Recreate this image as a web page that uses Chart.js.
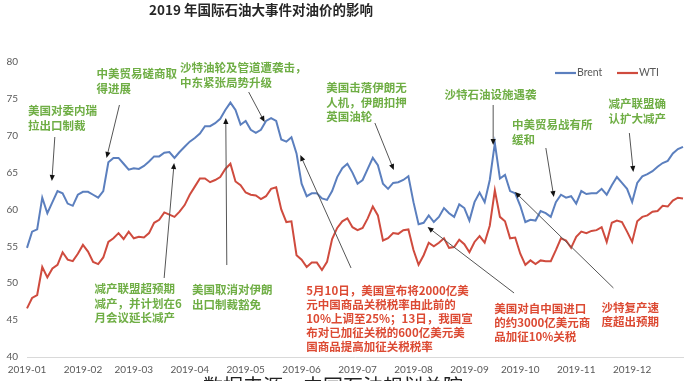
<!DOCTYPE html>
<html><head><meta charset="utf-8">
<script src="https://cdn.jsdelivr.net/npm/chart.js@4.4.1/dist/chart.umd.min.js"></script>
<style>
html,body{margin:0;padding:0;background:#fff;width:690px;height:381px;overflow:hidden;}
#wrap{position:relative;width:690px;height:381px;overflow:hidden;}
#title{position:absolute;left:0;top:1px;width:522px;text-align:center;font:bold 13.5px "Noto Sans CJK SC";line-height:16px;color:#262626;}
#src{position:absolute;left:203px;top:373px;font:20px "Noto Sans CJK SC";line-height:26px;color:#222;white-space:nowrap;}
canvas{position:absolute;left:0;top:0;}
</style></head>
<body><div id="wrap"><canvas id="c" width="690" height="381"></canvas>
<div id="title">2019 年国际石油大事件对油价的影响</div>
<div id="src">数据来源：中国石油规划总院</div></div>
<script>
const monthLabels = ['2019-01','2019-02','2019-03','2019-04','2019-05','2019-06','2019-07','2019-08','2019-09','2019-10','2019-11','2019-12'];
const monthCounts = [11,10,11,11,11,11,11,11,10,11,11,11];
const yTicks = [40,45,50,55,60,65,70,75,80];

const brent = [54.8,57,57.3,61.6,59.5,61,62.5,62.2,60.8,60.5,62,
62.4,62.4,62,61.6,62.5,66.4,67,67,66.2,65.4,
65.6,65.5,65.9,66.5,67.2,67.2,67.7,67.8,67,67.8,68.5,
69.2,69.7,70.3,71.3,71.3,71.7,72.3,73.5,74.5,73.5,71.5,
72,70.8,70.4,70.8,72,72.4,72,69.5,69.2,69.8,67.6,
63.5,61.8,62.2,62.2,61.5,61.3,62.5,64.4,65.6,66.2,65,
63.5,64,65.5,67,66,63.5,62.8,63.6,63.7,64,64.5,
61,58,58.2,59.2,58.3,59,60.2,59.5,59,60.7,60.2,
58.5,61,62.3,61,64,69,64.2,64.7,62.5,62.2,
60.5,58.3,58.6,58.5,59.8,59.5,59,61,62,61.6,61.8,
60.8,62.5,62.1,62.2,62.2,62.8,62,63.3,64.4,63.6,62.8,
61,63.6,64.5,64.8,65.2,65.8,66.3,66.6,67.6,68.2,68.5];

const wti = [46.6,48,48.4,52.2,50.8,52,52.5,54.2,53.2,53,54,
55.2,54.3,52.9,52.6,53.5,55.6,56.1,56.8,56,57,
56.1,56.3,56.2,56.8,58.2,58.6,59.6,59.3,59,59.7,60.6,
62,63.1,64.2,64.2,63.7,64,64.4,65.5,66.2,63.8,63.3,
62.3,62,61.9,61.4,61.8,62.8,63,60,58.3,58.4,53.8,
53.2,52.2,52.8,52.8,51.8,52.9,56,57.5,58.4,58.8,57.6,
57.2,57.5,58.8,60.4,59.2,55.8,56.1,56.8,56.7,57.2,57.3,
54.5,52.5,53.8,55.5,55,55.5,56.1,54.8,54.9,55.9,55.3,
54.2,55.6,56.4,55.5,57.8,62.6,59,58.4,56.1,56.2,
54,52.5,53.1,52.6,53.1,53,53,54.5,56.1,55.8,54.8,
56.3,57,56.8,57.1,57.2,57.6,55.6,58.2,58.5,58.3,57,
55.6,58.4,59,59.2,59.7,59.8,60.5,60.4,61.2,61.6,61.5];

const seriesNames = ['Brent','WTI'];

// labels: month name at each month's first point
const labels = [];
monthCounts.forEach((n,m)=>{ for(let k=0;k<n;k++) labels.push(k===0?monthLabels[m]:''); });

const GREEN = '#6fae45', RED = '#dc4a33';
// annotation text anchors and arrows given in data units: [index, value]
const notes = [
 {lines:['美国对委内瑞','拉出口制裁'], c:GREEN, at:[0.2,73.36], from:[5.47,69.83], to:[4.89,63.86]},
 {lines:['中美贸易磋商取','得进展'], c:GREEN, at:[13.68,78.37], from:[18.18,74.17], to:[15.64,66.98]},
 {lines:['沙特油轮及管道遭袭击，','中东紧张局势升级'], c:GREEN, at:[30.1,79.19], from:[43.59,75.93], to:[46.72,71.86]},
 {lines:['美国击落伊朗无','人机，伊朗扣押','英国油轮'], c:GREEN, at:[58.84,76.47], from:[68.41,71.73], to:[72.13,65.36]},
 {lines:['沙特石油设施遇袭'], c:GREEN, at:[82.1,75.53], from:[91.67,74.17], to:[91.67,68.75]},
 {lines:['中美贸易战有所','缓和'], c:GREEN, at:[95.39,71.46], from:[102.03,68.34], to:[103.6,61.69]},
 {lines:['减产联盟确','认扩大减产'], c:GREEN, at:[114.35,74.31], from:[118.45,70.37], to:[119.23,65.08]},
 {lines:['减产联盟超预期','减产，并计划在6','月会议延长减产'], c:GREEN, at:[13.29,49.22], from:[26.97,50.71], to:[28.93,66.31]},
 {lines:['美国取消对伊朗','出口制裁豁免'], c:GREEN, at:[32.45,49.08], from:[39.29,52.47], to:[39.09,72.41]},
 {lines:['5月10日，美国宣布将2000亿美','元中国商品关税税率由此前的','10%上调至25%；13日，我国宣','布对已加征关税的600亿美元美','国商品提高加征关税税率'], c:RED, at:[54.93,48.95], from:[63.72,52.07], to:[53.75,67.39]},
 {lines:['美国对自中国进口','的约3000亿美元商','品加征10%关税'], c:RED, at:[91.87,46.51], from:[95.78,48.68], to:[78.77,57.63]},
 {lines:['沙特复产速','度超出预期'], c:RED, at:[112.98,46.64], from:[115.32,49.36], to:[95.97,62.37]}
];

const overlay = {
  id:'overlay',
  afterDatasetsDraw(chart){
    const ctx = chart.ctx, xs = chart.scales.x, ys = chart.scales.y;
    const P = p => [xs.getPixelForValue(p[0]), ys.getPixelForValue(p[1])];
    ctx.save();
    notes.forEach(n=>{
      const [x1,y1]=P(n.from), [x2,y2]=P(n.to);
      const a = Math.atan2(y2-y1,x2-x1);
      ctx.strokeStyle='#555'; ctx.lineWidth=1;
      ctx.beginPath(); ctx.moveTo(x1,y1); ctx.lineTo(x2-Math.cos(a)*3,y2-Math.sin(a)*3); ctx.stroke();
      ctx.fillStyle='#111';
      ctx.beginPath();
      ctx.moveTo(x2,y2);
      ctx.lineTo(x2-Math.cos(a)*6+Math.sin(a)*2.6, y2-Math.sin(a)*6-Math.cos(a)*2.6);
      ctx.lineTo(x2-Math.cos(a)*6-Math.sin(a)*2.6, y2-Math.sin(a)*6+Math.cos(a)*2.6);
      ctx.closePath(); ctx.fill();
    });
    ctx.textAlign='left'; ctx.textBaseline='middle';
    notes.forEach(n=>{
      const [x,y]=P(n.at);
      ctx.font='bold 11.5px "Noto Sans CJK SC"';
      ctx.fillStyle=n.c;
      const lh = n.c===RED?14:14.5;
      n.lines.forEach((t,i)=>ctx.fillText(t,x,y+i*lh));
    });
    const items = chart.data.datasets;
    const lx = [555,617];
    ctx.font='10.5px Lato'; ctx.textBaseline='middle';
    items.forEach((d,i)=>{
      ctx.strokeStyle=d.borderColor; ctx.lineWidth=2.2;
      ctx.beginPath(); ctx.moveTo(lx[i],73); ctx.lineTo(lx[i]+21,73); ctx.stroke();
      ctx.fillStyle='#595959';
      ctx.fillText(d.label, lx[i]+22, 73);
    });
    ctx.restore();
  }
};

new Chart(document.getElementById('c'), {
  type:'line',
  data:{labels, datasets:[
    {label:seriesNames[0], data:brent, borderColor:'#5b7fbe', borderWidth:2, pointRadius:0, tension:0},
    {label:seriesNames[1], data:wti, borderColor:'#cf4b3e', borderWidth:2, pointRadius:0, tension:0}
  ]},
  options:{
    responsive:false, animation:false, devicePixelRatio:1,
    layout:{padding:{top:62,right:2,left:0,bottom:0}},
    plugins:{legend:{display:false}, title:{display:false}, tooltip:{enabled:false}},
    scales:{
      x:{
        grid:{display:false, drawTicks:false}, border:{display:true,color:'#d9d9d9',width:1},
        ticks:{autoSkip:false,maxRotation:0,minRotation:0,padding:7,color:'#595959',font:{family:'Lato',size:10}},
        afterFit(s){ s.height=24; }
      },
      y:{
        min:40,max:80,
        afterBuildTicks(s){ s.ticks = yTicks.map(v=>({value:v})); },
        grid:{display:false, drawTicks:false}, border:{display:false},
        ticks:{padding:9,color:'#595959',font:{family:'Lato',size:10}},
        afterFit(s){ s.width=27; }
      }
    }
  },
  plugins:[overlay]
});
</script>
</body></html>
